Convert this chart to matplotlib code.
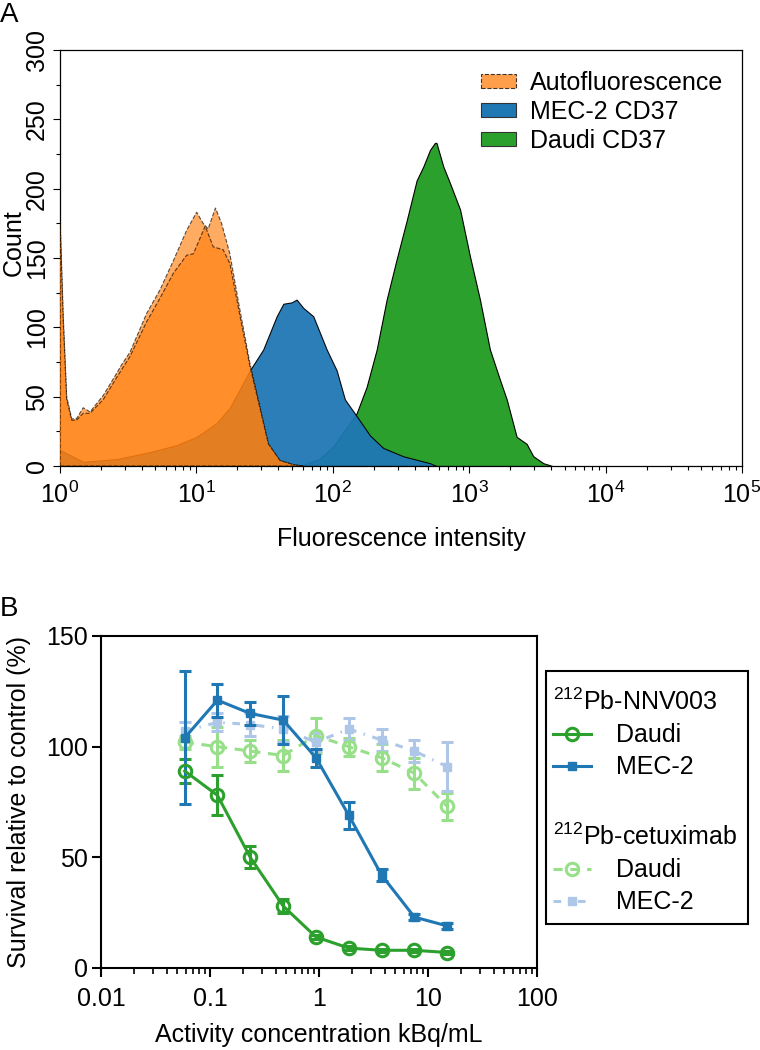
import numpy as np
import matplotlib
matplotlib.use('Agg')
import matplotlib.pyplot as plt
from matplotlib.patches import Patch, Rectangle

plt.rcParams['font.family'] = ['Liberation Sans', 'DejaVu Sans']
plt.rcParams['mathtext.default'] = 'regular'
plt.rcParams['font.size'] = 18

# panel A: flow cytometry histograms (intensity, count)
auto_a_x = [1.0, 1.057, 1.12, 1.22, 1.32, 1.48, 1.66, 2.08, 2.61, 2.83, 3.26, 4.32, 5.41, 6.78,
            8.49, 10.05, 11.2, 12.2, 13.8, 15.3, 17.6, 20.9, 24.7, 29.2, 33.7, 41.0, 51.3, 60.3]
auto_a_y = [181, 108, 50, 34, 34, 42, 39, 51, 67, 73, 82, 110, 127, 148,
            170, 183, 175, 171, 186, 175, 153, 112, 74, 43, 16, 4, 1, 0]
auto_b_x = [1.0, 1.057, 1.12, 1.22, 1.32, 1.48, 1.66, 2.08, 2.61, 3.26, 4.32, 5.41, 6.78,
            8.49, 9.51, 11.6, 13.3, 15.7, 17.6, 20.9, 24.7, 29.2, 33.7, 41.0, 51.3, 60.3]
auto_b_y = [178, 105, 48, 33, 33, 38, 38, 48, 64, 79, 104, 121, 139,
            152, 153, 173, 158, 156, 146, 108, 72, 42, 16, 4, 1, 0]
mec2_x = [1.0, 1.48, 2.61, 4.57, 7.16, 10.05, 14.1, 17.6, 22.1, 24.7, 30.9, 38.8, 43.4, 50.0,
          54.3, 60.8, 71.9, 90.2, 106.7, 122.7, 149.6, 187.5, 234.4, 328.9, 516.4, 575.4]
mec2_y = [11.5, 3, 5, 10, 15, 21, 31, 42, 60, 69, 84, 108, 117, 118,
          120, 114, 108, 84, 69, 48, 36, 22, 13, 7, 2, 0]
daudi_x = [57.5, 79.4, 100.9, 149.6, 177, 209.9, 248.3, 293.8, 348.3, 412.1, 461.3, 516.4, 561.0,
           575.4, 645.7, 722.8, 857.0, 1014, 1199, 1419, 1683, 1884, 2228, 2636, 2951, 3499, 4074]
daudi_y = [0, 5, 14, 38, 57, 84, 120, 149, 177, 206, 216, 228, 233,
           233, 216, 204, 185, 151, 120, 84, 62, 48, 21, 16, 7, 2, 0]

# panel B: survival vs activity concentration
conc = [0.0586, 0.117, 0.234, 0.469, 0.9375, 1.875, 3.75, 7.5, 15]
nnv_daudi = [89, 78, 50, 28, 14, 9, 8, 8, 7]
nnv_daudi_err = [5.5, 9, 5, 3, 1, 0.8, 0.8, 0.8, 0.8]
nnv_mec2 = [104, 121, 115, 112, 95, 69, 42, 23, 19]
nnv_mec2_err = [30, 7.5, 5, 11, 4, 6, 2.5, 1.5, 1.5]
cet_daudi = [102, 100, 98, 96, 105, 100, 95, 88, 73]
cet_daudi_err = [3, 9, 5, 7, 8, 4, 6, 7, 6]
cet_mec2 = [107, 111, 110, 108, 102, 108, 103, 98, 91]
cet_mec2_err = [4, 4, 5, 6, 4, 5, 5, 5, 11]

orange = '#ff7f0e'
blue = '#1f77b4'
green = '#2ca02c'
lgreen = '#98df8a'
lblue = '#aec7e8'

fig = plt.figure(figsize=(7.6, 10.5), dpi=100)

# ---- panel A
ax = fig.add_axes([0.0789, 0.5562, 0.8974, 0.3962])
ax.fill_between(daudi_x, daudi_y, color=green, ec='k', lw=0.8, zorder=1)
ax.fill_between(mec2_x, mec2_y, color=blue, alpha=0.95, ec='k', lw=0.8, zorder=2)
ax.fill_between(auto_a_x, auto_a_y, color=orange, alpha=0.65, ec='k', lw=0.8, ls='--', zorder=3)
ax.fill_between(auto_b_x, auto_b_y, color=orange, alpha=0.65, ec='k', lw=0.8, ls='--', zorder=3)
ax.set_xscale('log')
ax.set_xlim(1, 1e5)
ax.set_ylim(0, 300)
ax.set_yticks(np.arange(0, 301, 50))
ax.set_yticks(np.arange(0, 301, 25), minor=True)
ax.tick_params(which='major', length=5, width=0.8, labelsize=18)
ax.tick_params(axis='x', which='major', pad=6)
ax.tick_params(which='minor', length=3, width=0.8)
ax.tick_params(axis='y', labelrotation=90, pad=3)
for t in ax.get_yticklabels():
    t.set_va('center')
ax.set_xlabel('Fluorescence intensity', fontsize=18, labelpad=14)
ax.set_ylabel('Count', fontsize=18)
ax.yaxis.set_label_coords(-0.05, 0.536)
for s in ax.spines.values():
    s.set_linewidth(0.9)
handles = [Patch(fc=orange, alpha=0.75, ec='k', ls='--', lw=0.8),
           Patch(fc=blue, ec='#333333', lw=0.8),
           Patch(fc=green, ec='#333333', lw=0.8)]
ax.legend(handles, ['Autofluorescence', 'MEC-2 CD37', 'Daudi CD37'], loc='upper left',
          bbox_to_anchor=(0.617, 0.95), frameon=False, fontsize=18, handlelength=1.4,
          handleheight=0.5, handletextpad=0.55, labelspacing=0.2, borderpad=0, borderaxespad=0)
fig.text(0.0, 1 - 2 / 1050, 'A', fontsize=20, va='top', ha='left')

# ---- panel B
bx = fig.add_axes([0.1329, 0.0781, 0.5737, 0.3162])
c1 = bx.errorbar(conc, nnv_daudi, yerr=nnv_daudi_err, color=green, lw=2.2, marker='o', ms=9,
                 mfc='none', mew=2.2, elinewidth=2.2, capsize=4, capthick=2.2, zorder=3)
c2 = bx.errorbar(conc, nnv_mec2, yerr=nnv_mec2_err, color=blue, lw=2.2, marker='s', ms=6,
                 elinewidth=2.2, capsize=4, capthick=2.2, zorder=3)
c3 = bx.errorbar(conc, cet_daudi, yerr=cet_daudi_err, color=lgreen, lw=2.2, marker='o', ms=9,
                 mfc='none', mew=2.2, elinewidth=2.2, capsize=4, capthick=2.2, zorder=2)
c3.lines[0].set_dashes([3, 2.5])
c4 = bx.errorbar(conc, cet_mec2, yerr=cet_mec2_err, color=lblue, lw=2.2, marker='s', ms=6,
                 elinewidth=2.2, capsize=4, capthick=2.2, zorder=2)
c4.lines[0].set_dashes([2.5, 2.5, 0.5, 2.5])
bx.set_xscale('log')
bx.set_xlim(0.01, 100)
bx.set_ylim(0, 150)
bx.set_yticks([0, 50, 100, 150])
bx.set_xticks([0.01, 0.1, 1, 10, 100])
bx.set_xticklabels(['0.01', '0.1', '1', '10', '100'])
bx.tick_params(which='major', length=6.5, width=1.5, labelsize=18, pad=3)
bx.tick_params(axis='x', which='major', pad=7)
bx.tick_params(which='minor', length=4, width=1.2)
for s in bx.spines.values():
    s.set_linewidth(1.5)
bx.set_xlabel('Activity concentration kBq/mL', fontsize=18, labelpad=9)
bx.set_ylabel('Survival relative to control (%)', fontsize=18)
bx.yaxis.set_label_coords(-0.16, 0.5)
fig.text(0.0, 1 - 596 / 1050, 'B', fontsize=20, va='top', ha='left')

leg_kw = dict(loc='upper left', bbox_transform=fig.transFigure, frameon=False, fontsize=18,
              title_fontsize=18, alignment='left', handlelength=1.5, handletextpad=1.0,
              labelspacing=0.32, borderpad=0, borderaxespad=0)
leg1 = bx.legend([c1.lines[0], c2.lines[0]], ['Daudi', 'MEC-2'], title='$^{212}$Pb-NNV003',
                 bbox_to_anchor=(553 / 760, 1 - 689 / 1050), **leg_kw)
bx.add_artist(leg1)
bx.legend([c3.lines[0], c4.lines[0]], ['Daudi', 'MEC-2'], title='$^{212}$Pb-cetuximab',
          bbox_to_anchor=(553 / 760, 1 - 824 / 1050), **leg_kw)
fig.add_artist(Rectangle((546 / 760, 1 - 924 / 1050), 202 / 760, 253 / 1050,
                         transform=fig.transFigure, fill=False, lw=1.5, ec='k'))

fig.savefig('out.png', dpi=100)
